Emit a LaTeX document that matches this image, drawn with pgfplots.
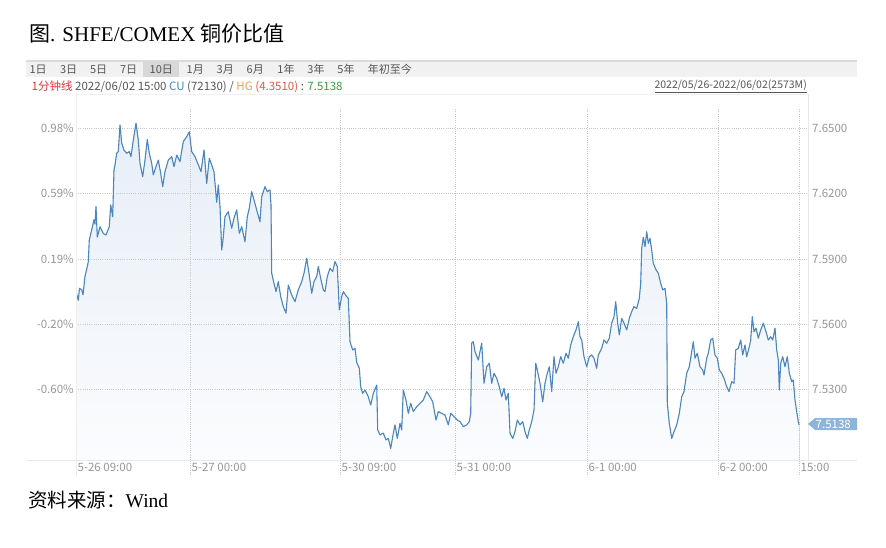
\documentclass[border=0pt]{standalone}
\usepackage{fontspec}
\usepackage{pgfplots}
\usepackage{pgfplotstable}
\pgfplotsset{compat=1.18}
\usepgfplotslibrary{fillbetween}
\setmainfont{Liberation Serif}
\newfontfamily\cjk{Noto Sans CJK SC}
\newfontfamily\ui{Noto Sans CJK SC}
\definecolor{linec}{RGB}{74,134,192}
\definecolor{areatop}{RGB}{231,238,247}
\definecolor{areabot}{RGB}{251,252,254}
\definecolor{gridc}{RGB}{200,200,200}
\definecolor{labc}{RGB}{150,150,150}
\definecolor{uic}{RGB}{85,85,85}
\definecolor{tbbg}{RGB}{241,241,241}
\definecolor{tbtop}{RGB}{218,218,218}
\definecolor{tbhl}{RGB}{216,216,216}
\definecolor{redc}{RGB}{238,52,60}
\definecolor{cuc}{RGB}{60,140,204}
\definecolor{hgc}{RGB}{245,160,66}
\definecolor{hgv}{RGB}{228,85,72}
\definecolor{grn}{RGB}{52,160,60}
\definecolor{tagc}{RGB}{143,180,220}
\definecolor{edge}{RGB}{232,232,232}

\pgfplotstableread{
x y
76 7.5750
78.3 7.5710
79.5 7.5765
81.7 7.5758
83 7.5735
85 7.5819
87.3 7.5865
88.3 7.5888
89.3 7.5987
91.7 7.6033
94 7.6080
95 7.6060
96 7.6140
97.3 7.6000
100 7.6048
103.3 7.6017
106 7.6010
109.3 7.6048
110.7 7.6148
112.7 7.6094
114 7.6309
115 7.6332
116.7 7.6385
118.3 7.6393
120 7.6515
121.7 7.6431
124 7.6400
126.7 7.6385
129.3 7.6393
131 7.6370
133.3 7.6446
136 7.6523
138.3 7.6446
140 7.6339
142.7 7.6278
145 7.6354
147.3 7.6449
149.3 7.6385
151.7 7.6339
153.3 7.6286
156 7.6324
158.3 7.6354
160.7 7.6293
162.7 7.6232
165 7.6301
168.3 7.6354
171.7 7.6370
174 7.6324
176.7 7.6377
180 7.6347
183.3 7.6439
186.7 7.6461
189.3 7.6484
191.7 7.6393
195 7.6370
198.3 7.6332
201 7.6301
204 7.6400
206.7 7.6247
209.3 7.6362
211.7 7.6332
214 7.6300
216.7 7.6160
218.3 7.6240
220 7.6140
221.7 7.5941
223.3 7.6000
225 7.6094
228.3 7.6117
231.7 7.6041
234 7.6087
236.7 7.6125
239.3 7.6018
241.7 7.6048
245 7.5979
247.3 7.6094
249.3 7.6133
251.7 7.6209
254 7.6171
256.7 7.6125
260 7.6071
261.7 7.6186
265 7.6232
267.3 7.6209
270 7.6217
271 7.6148
271.7 7.5834
274 7.5788
276 7.5750
278.3 7.5796
280.7 7.5727
283.3 7.5681
286 7.5651
288.3 7.5780
291.7 7.5734
295 7.5704
298.3 7.5758
301.7 7.5796
304 7.5834
306.7 7.5903
309 7.5834
311.7 7.5742
314 7.5796
316.7 7.5819
318.3 7.5865
320.7 7.5811
323.3 7.5758
325 7.5750
327.3 7.5819
330 7.5857
332.7 7.5842
335 7.5888
337.3 7.5865
339.3 7.5666
341.7 7.5727
343.3 7.5750
346.7 7.5727
348.3 7.5719
350 7.5520
352.7 7.5482
355 7.5490
356.7 7.5425
359.3 7.5398
360.7 7.5313
362.7 7.5283
365 7.5298
368.3 7.5267
370.7 7.5229
373.3 7.5283
376.7 7.5321
377.7 7.5115
380 7.5092
383.3 7.5100
386 7.5069
388.3 7.5076
390.7 7.5030
392.7 7.5084
395 7.5138
397.3 7.5076
400 7.5145
401.7 7.5115
403.3 7.5298
406 7.5252
408.3 7.5191
410.7 7.5237
413.3 7.5199
416.7 7.5222
420 7.5237
423.3 7.5252
426.7 7.5291
430 7.5267
432.7 7.5244
436 7.5160
438.3 7.5199
441.7 7.5191
445 7.5183
448.3 7.5138
450.7 7.5191
454 7.5176
457.3 7.5160
460 7.5153
463.3 7.5130
466.7 7.5138
469.3 7.5153
470.7 7.5191
471.7 7.5513
473.3 7.5520
475 7.5474
478.3 7.5436
481.7 7.5513
484 7.5329
486.7 7.5405
489.3 7.5421
491.7 7.5329
494 7.5375
496.7 7.5352
499.3 7.5313
501.7 7.5267
504 7.5306
506 7.5252
508.3 7.5283
510 7.5100
512.7 7.5076
515 7.5107
517.3 7.5160
520 7.5138
522.7 7.5153
525 7.5107
527.3 7.5076
529.3 7.5115
531.7 7.5153
534 7.5206
535.7 7.5421
537.3 7.5390
540 7.5329
542.7 7.5244
545 7.5329
547.3 7.5375
549.3 7.5405
551.7 7.5291
554 7.5451
556 7.5375
558.3 7.5405
560.7 7.5451
563.3 7.5421
566 7.5467
568.3 7.5444
570.7 7.5505
573.3 7.5543
576 7.5574
578.3 7.5612
580 7.5543
581.7 7.5528
584 7.5451
586.7 7.5405
589.3 7.5451
591.7 7.5459
594 7.5444
596.7 7.5398
598.3 7.5459
601.7 7.5490
604 7.5528
606.7 7.5513
609.3 7.5536
611.7 7.5605
614 7.5635
615.7 7.5704
617.7 7.5605
619.3 7.5551
621.7 7.5627
624 7.5605
626.7 7.5574
629.3 7.5627
631.7 7.5658
634 7.5681
636.7 7.5673
639.3 7.5719
640.7 7.5788
641.7 7.5949
643.3 7.6000
645 7.5956
646.7 7.6025
648.3 7.5972
650 7.5995
651.7 7.5941
653.3 7.5880
656 7.5850
658.3 7.5834
660.7 7.5788
662.7 7.5758
665 7.5765
666.7 7.5696
667.3 7.5237
669.3 7.5145
671.7 7.5076
674 7.5107
676.7 7.5138
679.3 7.5191
681.7 7.5267
684 7.5291
686.7 7.5375
689.3 7.5405
691.7 7.5474
693.3 7.5520
695 7.5444
697.3 7.5467
700 7.5405
702.7 7.5390
704 7.5367
706.7 7.5444
708.3 7.5467
710.7 7.5528
712.7 7.5536
715 7.5459
717.3 7.5444
719.3 7.5390
721.7 7.5375
724 7.5352
726.7 7.5313
729 7.5291
731.7 7.5337
734 7.5329
735.7 7.5482
738.3 7.5490
740.7 7.5528
742.7 7.5459
745 7.5505
746.7 7.5451
749.3 7.5497
750.7 7.5528
752.3 7.5635
754 7.5566
756 7.5582
758.3 7.5536
760.7 7.5574
763.3 7.5605
766 7.5566
768.3 7.5528
770.7 7.5543
772.7 7.5528
775 7.5582
776.7 7.5482
778.3 7.5436
779.3 7.5298
780.7 7.5421
782.7 7.5451
785 7.5405
787.3 7.5451
789.3 7.5375
791.7 7.5337
793.3 7.5344
795 7.5252
796.7 7.5199
798.3 7.5153
799 7.5138
}\ratiotable

\begin{document}
\begin{tikzpicture}
% title
\node[anchor=base west, inner sep=0pt] at (29pt,-41.5pt) {\fontsize{21}{24}\selectfont{\cjk 图}. SHFE/COMEX {\cjk 铜价比值}};
% toolbar
\fill[tbbg] (26pt,-60pt) rectangle (857pt,-77pt);
\fill[tbtop] (26pt,-60pt) rectangle (857pt,-62.3pt);
\fill[tbhl] (143pt,-62.3pt) rectangle (179pt,-77pt);
\foreach \px/\lab in {29.3/1日,59.8/3日,89.8/5日,119.8/7日,149.5/10日,186.5/1月,216.5/3月,246.5/6月,277.2/1年,307.2/3年,337.2/5年,367.6/年初至今}{
  \node[anchor=base west, inner sep=0pt, text=uic] at (\px pt,-74pt) {\ui\fontsize{11}{12}\selectfont \lab};
}
% info line
\node[anchor=base west, inner sep=0pt, text=uic] at (31.5pt,-90.5pt) {\ui\fontsize{11.5}{13}\selectfont{\color{redc}1分钟线} 2022/06/02 15:00 {\color{cuc}CU} (72130) / {\color{hgc}HG} {\color{hgv}(4.3510)} : {\color{grn}7.5138}};
\node[anchor=base east, inner sep=0pt, text=uic] at (807pt,-89pt) {\ui\fontsize{10.5}{12}\selectfont\underline{2022/05/26-2022/06/02(2573M)}};
% plot frame line
\draw[color=edge!70, line width=0.8pt] (76pt,-94pt) -- (808pt,-94pt);

\begin{axis}[
  at={(76pt,-460pt)}, anchor=south west,
  width=732pt, height=352pt, scale only axis,
  xmin=76, xmax=808, ymin=7.49768, ymax=7.65932,
  axis line style={draw=none},
  major tick length=0pt,
  xtick={76,190,340,455,587,718,799},
  xticklabels={5-26 09:00,5-27 00:00,5-30 09:00,5-31 00:00,6-1 00:00,6-2 00:00,15:00},
  ytick={7.53,7.56,7.59,7.62,7.65},
  yticklabels={-0.60\%,-0.20\%,0.19\%,0.59\%,0.98\%},
  grid=major,
  grid style={color=gridc, dash pattern=on 1pt off 1.2pt, line width=0.7pt},
  ticklabel style={font=\ui\fontsize{11.5}{13}\selectfont, text=labc},
  xticklabel style={anchor=north west, inner sep=0pt, xshift=1.5pt, yshift=-3pt},
  yticklabel style={anchor=east, inner sep=0pt, xshift=-2pt},
]
\addplot[draw=none, name path=A] table[x=x, y=y] {\ratiotable};
\addplot[draw=none, name path=B] coordinates {(76,7.49768) (799,7.49768)};
\addplot[top color=areatop, bottom color=areabot, draw=none] fill between[of=A and B, on layer=axis background];
\addplot[color=linec, line width=1.1pt, line join=round] table[x=x, y=y] {\ratiotable};
\end{axis}

\begin{axis}[
  at={(76pt,-460pt)}, anchor=south west,
  width=732pt, height=352pt, scale only axis,
  xmin=76, xmax=808, ymin=7.49768, ymax=7.65932,
  axis x line=none, axis y line*=right,
  axis line style={draw=none},
  major tick length=0pt,
  xtick=\empty,
  ytick={7.53,7.56,7.59,7.62,7.65},
  yticklabels={7.5300,7.5600,7.5900,7.6200,7.6500},
  ticklabel style={font=\ui\fontsize{11.5}{13}\selectfont, text=labc},
  yticklabel style={anchor=west, inner sep=0pt, xshift=4pt},
]
\end{axis}

% axis edge lines
\draw[color=edge!80, line width=0.8pt] (76pt,-94pt) -- (76pt,-476pt);
\draw[color=edge, line width=0.8pt] (808pt,-94pt) -- (808pt,-460pt);
\draw[color=edge, line width=0.8pt] (26pt,-460pt) -- (857pt,-460pt);
\foreach \gx in {190,340,455,587,718,799}{
  \draw[color=gridc, dash pattern=on 1pt off 1.2pt, line width=0.7pt] (\gx pt,-461pt) -- (\gx pt,-476pt);
}
% last value tag
\fill[tagc] (808pt,-424pt) -- (815pt,-418pt) -- (857pt,-418pt) -- (857pt,-430pt) -- (815pt,-430pt) -- cycle;
\node[anchor=west, inner sep=0pt, text=white] at (815.5pt,-424pt) {\ui\fontsize{11.5}{13}\selectfont 7.5138};
% source
\node[anchor=base west, inner sep=0pt] at (28pt,-507pt) {\fontsize{19.5}{22}\selectfont{\cjk 资料来源：}Wind};
\pgfresetboundingbox
\path[use as bounding box] (0pt,0pt) rectangle (886pt,-548pt);
\end{tikzpicture}
\end{document}
